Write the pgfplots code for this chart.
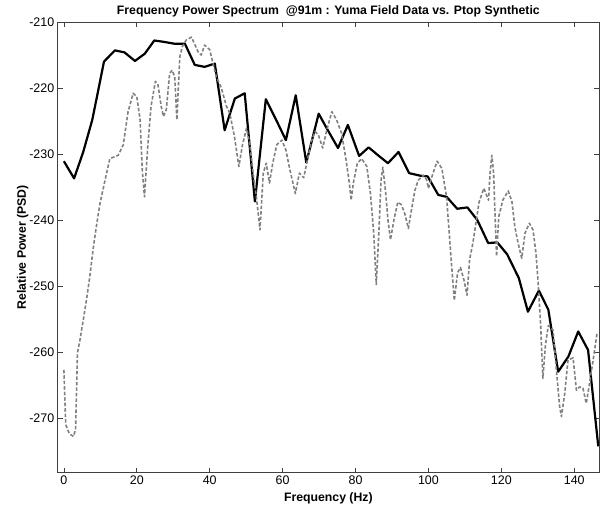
\documentclass[border=0pt]{standalone}
\usepackage{pgfplots}
\pgfplotsset{compat=1.18}
\usepackage{fontspec}
\setmainfont{Liberation Sans}
\begin{document}
\begin{tikzpicture}
\begin{axis}[
  at={(57.7bp,32.3bp)}, anchor=south west,
  scale only axis, width=541.3bp, height=450.7bp,
  xmin=-1.7, xmax=146.8, ymin=-278.3, ymax=-210,
  xtick={0,20,...,140}, ytick={-270,-260,...,-210},
  tick align=inside, tick pos=both, major tick length=5bp,
  axis line style={black!75, line width=0.7bp},
  tick style={black!75, line width=0.7bp},
  /pgf/number format/assume math mode=true,
  tick label style={font=\fontsize{12.5}{14}\selectfont},
  xlabel={\bfseries Frequency (Hz)},
  ylabel={\bfseries Relative Power (PSD)},
  label style={font=\fontsize{12.3}{14}\selectfont},
  ylabel style={yshift=-6bp},
  xlabel style={yshift=-1bp},
  title={\bfseries Frequency Power Spectrum\ \ @91m : Yuma Field Data vs. Ptop Synthetic},
  title style={font=\fontsize{12.3}{14}\selectfont, at={(0.5,1)}, anchor=base, yshift=1.5bp},
  clip=true,
]
\addplot[black, line width=2.2bp, line join=round] coordinates {
(0,-231.1) (2.8,-233.7) (5.3,-229.7) (7.8,-224.8) (11.0,-216.0) (14.0,-214.3)
(16.6,-214.6) (19.5,-215.9) (22.2,-214.8) (24.8,-212.8) (27.3,-213.0) (30.4,-213.3)
(33.2,-213.3) (35.9,-216.5) (38.6,-216.8) (41.4,-216.3) (44.1,-226.4) (46.9,-221.6)
(49.6,-220.8) (52.4,-237.2) (55.4,-221.7) (58.2,-224.8) (60.9,-227.9) (63.6,-221.1)
(66.5,-231.3) (69.9,-223.9) (72.5,-226.5) (75.2,-229.1) (77.9,-225.6) (81.0,-230.3)
(83.6,-229.0) (86.2,-230.2) (88.9,-231.4) (91.8,-229.7) (94.7,-232.9) (97.8,-233.3)
(99.8,-233.4) (102.7,-236.2) (105.0,-236.5) (107.9,-238.3) (110.7,-238.1) (113.4,-240.0)
(116.4,-243.5) (118.9,-243.4) (121.6,-245.2) (124.8,-248.8) (127.3,-253.9) (130.3,-250.7)
(132.9,-253.6) (135.6,-263.0) (138.4,-260.7) (141.1,-256.9) (143.8,-259.7) (146.6,-274.3)
};
\addplot[black!50, line width=1.6bp, dash pattern=on 3.5bp off 2bp, line join=round] coordinates {
(0.0,-262.7) (0.5,-271.0) (1.5,-272.4) (2.6,-272.8) (3.2,-271.8) (3.5,-265.3) (3.7,-260.2)
(4.4,-258.2) (5.3,-255.2) (6.2,-252.1) (7.1,-248.6) (8.0,-244.5) (8.9,-241.0) (9.9,-237.5)
(11.2,-234.2) (12.6,-230.7) (14.0,-230.4) (14.9,-230.2) (16.3,-228.6) (17.6,-223.6)
(19.0,-220.8) (20.0,-221.3) (20.9,-224.8) (21.5,-232.4) (22.1,-236.5) (23.0,-228.9)
(23.9,-222.8) (25.1,-219.0) (25.8,-219.5) (26.7,-222.8) (27.3,-224.3) (28.1,-223.3)
(29.0,-217.8) (29.7,-217.3) (30.4,-218.3) (31.0,-224.8) (31.3,-221.0) (31.8,-215.3)
(32.5,-213.7) (33.6,-212.7) (35.0,-212.3) (36.0,-213.5) (36.8,-214.5) (37.7,-215.0)
(38.6,-213.5) (40.0,-214.2) (41.8,-218.3) (43.2,-220.0) (44.6,-222.8) (45.5,-223.8)
(46.8,-227.4) (48.0,-231.9) (49.0,-228.6) (50.1,-226.1) (51.0,-228.4) (51.9,-232.9)
(52.8,-236.5) (53.8,-241.5) (54.7,-232.9) (55.5,-231.4) (56.4,-234.4) (57.3,-231.4)
(58.4,-228.6) (59.8,-227.9) (60.9,-229.4) (62.0,-232.4) (63.5,-236.0) (64.6,-232.9)
(65.8,-233.6) (67.0,-230.4) (68.0,-227.9) (68.9,-226.6) (69.8,-227.1) (71.0,-229.1)
(72.1,-226.4) (73.5,-223.6) (74.8,-224.8) (76.2,-226.9) (77.4,-230.9) (78.3,-234.4)
(78.8,-237.0) (79.4,-234.4) (80.5,-231.4) (81.7,-230.7) (83.1,-231.9) (84.1,-236.0)
(85.0,-242.0) (85.7,-249.8) (86.4,-242.0) (87.0,-234.0) (87.5,-232.0) (88.3,-236.0)
(88.9,-240.0) (89.6,-243.0) (90.6,-239.8) (91.6,-237.3) (92.6,-237.7) (93.5,-239.0)
(94.5,-241.3) (95.5,-238.0) (96.3,-235.5) (97.2,-234.0) (98.6,-233.2) (99.5,-233.9)
(100.0,-235.2) (101.2,-233.0) (102.4,-231.1) (103.7,-232.2) (105.0,-236.6) (106.0,-244.2)
(107.1,-252.2) (108.0,-248.0) (108.8,-247.2) (109.8,-249.2) (110.6,-251.4) (111.3,-246.0)
(112.2,-243.5) (113.9,-237.3) (115.2,-235.2) (116.5,-237.0) (116.9,-233.0) (117.4,-230.2)
(117.9,-233.0) (118.2,-238.0) (118.7,-245.5) (119.3,-239.5) (120.4,-237.0) (121.9,-235.6)
(122.9,-237.2) (123.7,-241.0) (124.6,-243.5) (125.6,-245.8) (126.5,-242.0) (127.7,-240.5)
(128.7,-241.5) (129.5,-245.0) (130.1,-249.5) (130.8,-256.0) (131.4,-264.0) (132.1,-259.0)
(132.9,-256.0) (134.2,-256.7) (135.1,-262.7) (136.0,-268.3) (136.5,-269.8) (137.4,-266.3)
(138.3,-261.2) (139.7,-260.9) (140.6,-265.8) (141.5,-265.3) (142.4,-265.5) (143.3,-267.8)
(143.9,-265.8) (145.2,-261.2) (146.3,-257.0)
};
\end{axis}
\pgfresetboundingbox
\path[use as bounding box] (0,0) rectangle (601bp,505bp);
\end{tikzpicture}
\end{document}
